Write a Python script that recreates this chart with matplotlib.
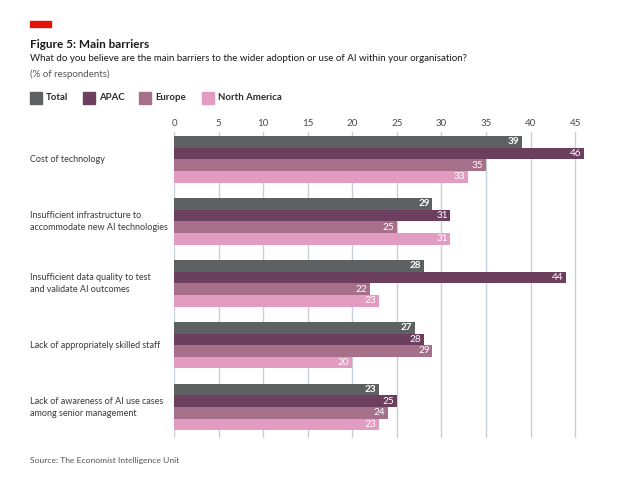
import matplotlib.pyplot as plt
from matplotlib.patches import Rectangle
from matplotlib.transforms import blended_transform_factory

# =====================================================
# DATA
# =====================================================

categories = [
    'Cost of technology',
    'Insufficient infrastructure to\naccommodate new AI technologies',
    'Insufficient data quality to test\nand validate AI outcomes',
    'Lack of appropriately skilled staff',
    'Lack of awareness of AI use cases\namong senior management',
]
series_names = ['Total', 'APAC', 'Europe', 'North America']
total = [39, 29, 28, 27, 23]
apac = [46, 31, 44, 28, 25]
europe = [35, 25, 22, 29, 24]
north_america = [33, 31, 23, 20, 23]
x_ticks = [0, 5, 10, 15, 20, 25, 30, 35, 40, 45]

colors = ['#5e6162', '#6d3f5e', '#a6708b', '#e29cc1']
grid_col = '#c6d1d9'

plt.rcParams['font.family'] = ['Lato', 'DejaVu Sans']

W, H = 636, 487
fig = plt.figure(figsize=(W / 100, H / 100), dpi=100)


def fx(px):
    return px / W


def fy(py):
    return 1 - py / H


# =====================================================
# HEADER
# =====================================================

fig.patches.append(Rectangle((fx(30), fy(27)), fx(21), 6 / H,
                             transform=fig.transFigure, color='#e3120b'))
fig.text(fx(30), fy(44), 'Figure 5: Main barriers', fontsize=8.5,
         fontweight='bold', color='#1a1a1a', va='center')
fig.text(fx(30), fy(58.5),
         'What do you believe are the main barriers to the wider adoption '
         'or use of AI within your organisation?',
         fontsize=7.05, color='#1a1a1a', va='center')
fig.text(fx(30), fy(74.5), '(% of respondents)', fontsize=7.0,
         color='#555555', va='center')

legend_x = [30, 83, 139, 202]
for name, c, lx in zip(series_names, colors, legend_x):
    fig.patches.append(Rectangle((fx(lx), fy(104)), fx(12), 12 / H,
                                 transform=fig.transFigure, color=c))
    fig.text(fx(lx + 16), fy(98), name, fontsize=6.9, fontweight='bold',
             color='#2a2a2a', va='center')

# =====================================================
# BARS
# =====================================================

ax = fig.add_axes([fx(174), fy(437.5), fx(584 - 174), (437.5 - 132) / H])

values = [total, apac, europe, north_america]
bar_h = 0.188
for s, (vals, c) in enumerate(zip(values, colors)):
    for i, v in enumerate(vals):
        y = i + (s - 1.5) * bar_h
        ax.barh(y, v, height=bar_h, color=c, zorder=3, linewidth=0)
        ax.text(v - 0.3, y, str(v), ha='right', va='center', fontsize=7.2,
                color='white', fontweight='bold' if s == 0 else 'normal',
                zorder=4)

ax.set_xlim(0, 46)
ax.set_ylim(4.49, -0.44)
ax.set_xticks(x_ticks)
ax.xaxis.tick_top()
ax.tick_params(axis='x', length=0, pad=3, labelsize=7.0, labelcolor='#4a4a4a')
ax.set_yticks([])
ax.grid(axis='x', color=grid_col, linewidth=1, zorder=0)
for sp in ax.spines.values():
    sp.set_visible(False)

label_tr = blended_transform_factory(fig.transFigure, ax.transData)
for i, cat in enumerate(categories):
    ax.text(fx(30), i, cat, transform=label_tr, ha='left', va='center',
            fontsize=6.5, color='#3a3a3a', linespacing=1.45)

fig.text(fx(30), fy(461), 'Source: The Economist Intelligence Unit',
         fontsize=6.1, color='#555555', va='center')

fig.savefig('out.png', dpi=100)
